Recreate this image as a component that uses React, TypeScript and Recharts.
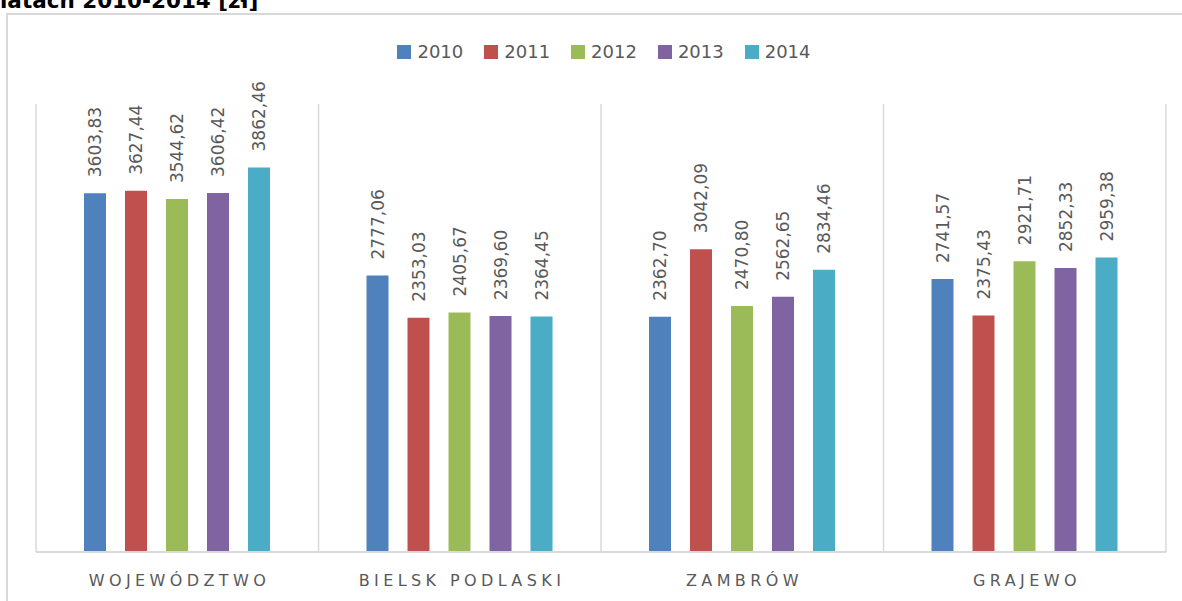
import React from "react";
import {
  BarChart,
  Bar,
  XAxis,
  YAxis,
  Legend,
  LabelList,
  CartesianGrid,
} from "recharts";

const categories = ["WOJEWÓDZTWO", "BIELSK PODLASKI", "ZAMBRÓW", "GRAJEWO"];
const years = ["2010", "2011", "2012", "2013", "2014"];
const values2010 = [3603.83, 2777.06, 2362.7, 2741.57];
const values2011 = [3627.44, 2353.03, 3042.09, 2375.43];
const values2012 = [3544.62, 2405.67, 2470.8, 2921.71];
const values2013 = [3606.42, 2369.6, 2562.65, 2852.33];
const values2014 = [3862.46, 2364.45, 2834.46, 2959.38];
const colors = ["#4f81bd", "#c0504d", "#9bbb59", "#8064a2", "#4bacc6"];

const seriesValues = [values2010, values2011, values2012, values2013, values2014];
const data = categories.map((name, i) => {
  const row: Record<string, string | number> = { name };
  years.forEach((y, k) => {
    row[y] = seriesValues[k][i];
  });
  return row;
});

const FONT = "'DejaVu Sans', sans-serif";
const TEXT = "#595959";

const fmt = (v: number) => v.toFixed(2).replace(".", ",");

const renderLabel = (props: any) => {
  const { x, y, width, value } = props;
  const cx = Number(x) + Number(width) / 2;
  const ty = Number(y) - 16;
  return (
    <text
      transform={`translate(${cx + 6},${ty}) rotate(-90)`}
      textAnchor="start"
      fontSize={17}
      fontFamily={FONT}
      fill={TEXT}
    >
      {fmt(Number(value))}
    </text>
  );
};

const CategoryTick = (props: any) => {
  const { x, y, payload } = props;
  const spacing = 4.4;
  return (
    <text
      x={x + spacing / 2}
      y={y + 26}
      textAnchor="middle"
      fontSize={16}
      fontFamily={FONT}
      fill={TEXT}
      letterSpacing={spacing}
    >
      {payload.value}
    </text>
  );
};

const LegendContent = () => (
  <div
    style={{
      display: "flex",
      justifyContent: "center",
      alignItems: "center",
      fontFamily: FONT,
      fontSize: 18,
      color: TEXT,
      paddingLeft: 26,
    }}
  >
    {years.map((y, k) => (
      <div key={y} style={{ display: "flex", alignItems: "center", marginRight: k < years.length - 1 ? 21 : 0 }}>
        <span style={{ display: "inline-block", width: 14, height: 14, background: colors[k], marginRight: 6 }} />
        <span>{y}</span>
      </div>
    ))}
  </div>
);

const dividerGenerator = ({ offset }: any) => {
  const n = categories.length;
  return Array.from({ length: n + 1 }, (_, k) => offset.left + (offset.width * k) / n);
};

export default function App() {
  return (
    <div
      style={{
        position: "relative",
        width: 1182,
        height: 601,
        overflow: "hidden",
        background: "#fff",
      }}
    >
      <style>{`body{margin:0;}`}</style>
      <div
        style={{
          position: "absolute",
          left: 0,
          top: -12,
          fontFamily: FONT,
          fontWeight: "bold",
          fontSize: 21.5,
          color: "#000",
          whiteSpace: "nowrap",
        }}
      >
        latach 2010-2014 [zł]
      </div>
      <div
        style={{
          position: "absolute",
          left: 6,
          top: 12.5,
          width: 1300,
          height: 700,
          border: "2px solid #d9d9d9",
          boxSizing: "border-box",
        }}
      />
      <div style={{ position: "absolute", left: 0, top: 0 }}>
        <BarChart
          width={1182}
          height={601}
          data={data}
          margin={{ top: 104, right: 16, left: 36, bottom: 0 }}
          barSize={22}
          barGap={19}
        >
          <CartesianGrid
            horizontal={false}
            vertical
            stroke="#d9d9d9"
            strokeWidth={1.5}
            verticalCoordinatesGenerator={dividerGenerator}
          />
          <XAxis
            dataKey="name"
            height={49}
            tickLine={false}
            axisLine={{ stroke: "#d9d9d9", strokeWidth: 2 }}
            tick={<CategoryTick />}
            interval={0}
          />
          <YAxis hide domain={[0, 4500]} />
          <Legend
            layout="horizontal"
            verticalAlign="middle"
            align="center"
            wrapperStyle={{ top: 41, left: 0, width: 1182 }}
            content={<LegendContent />}
          />
          {years.map((y, k) => (
            <Bar key={y} dataKey={y} fill={colors[k]} isAnimationActive={false}>
              <LabelList dataKey={y} content={renderLabel} />
            </Bar>
          ))}
        </BarChart>
      </div>
    </div>
  );
}
